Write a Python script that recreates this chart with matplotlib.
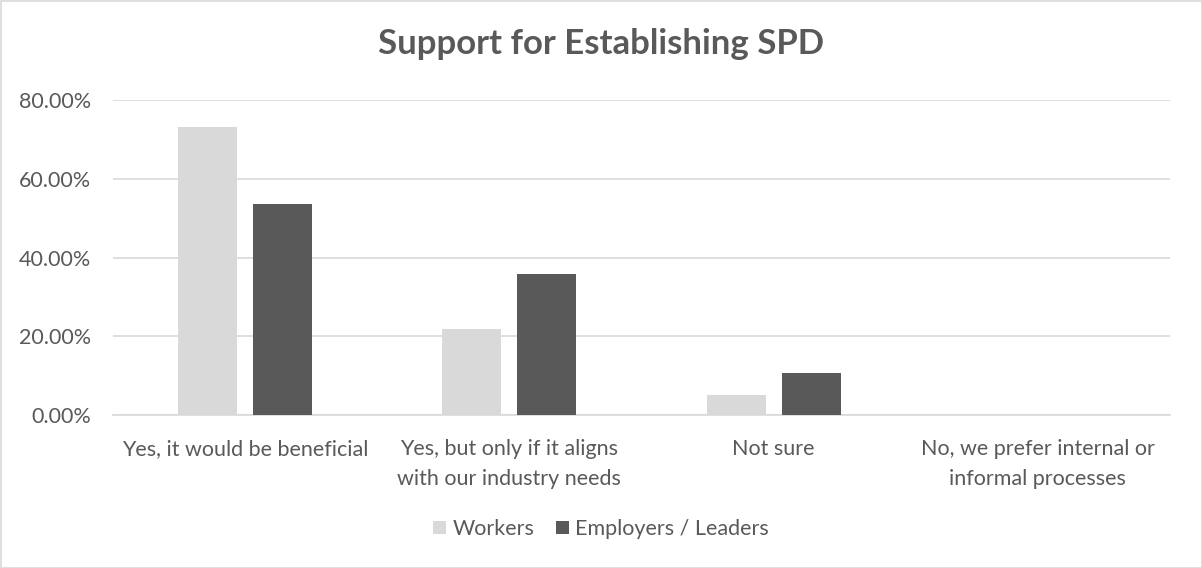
import matplotlib
matplotlib.use("Agg")
import matplotlib.pyplot as plt
import numpy as np
from matplotlib.ticker import FuncFormatter, MultipleLocator
from matplotlib.patches import Rectangle

categories = ["Yes, it would be beneficial",
              "Yes, but only if it aligns\nwith our industry needs",
              "Not sure",
              "No, we prefer internal or\ninformal processes"]
series_names = ["Workers", "Employers / Leaders"]
workers = [73.08, 21.79, 5.13, 0.0]
employers = [53.57, 35.71, 10.71, 0.0]

plt.rcParams['font.family'] = ['Lato', 'DejaVu Sans']
txt = '#595959'

fig = plt.figure(figsize=(12.02, 5.68), dpi=100)
ax = fig.add_axes([113/1202, 1 - 415/568, (1170-113)/1202, 315/568])

x = np.arange(len(categories))
bw = 0.223
off = 0.142
ax.bar(x - off, workers, bw, color='#d9d9d9', label=series_names[0], zorder=3)
ax.bar(x + off, employers, bw, color='#595959', label=series_names[1], zorder=3)

ax.set_xlim(-0.5, len(categories) - 0.5)
ax.set_ylim(0, 80)
ax.yaxis.set_major_locator(MultipleLocator(20))
ax.yaxis.set_major_formatter(FuncFormatter(lambda v, p: f"{v:.2f}%"))
ax.grid(axis='y', color='#d9d9d9', linewidth=1.2, zorder=0)
for s in ['top', 'right', 'left']:
    ax.spines[s].set_visible(False)
ax.spines['bottom'].set_color('#d9d9d9')
ax.spines['bottom'].set_linewidth(1.2)
ax.tick_params(axis='both', length=0, labelsize=15.5, colors=txt)
ax.tick_params(axis='y', pad=16)
ax.set_xticks(x)
ax.set_xticklabels(categories, linespacing=1.65, va='top')
ax.tick_params(axis='x', pad=17)

fig.text(0.5, 1 - 44/568, "Support for Establishing SPD", ha='center', va='center',
         fontsize=25, fontweight='bold', color=txt)

leg = fig.legend(loc='center', bbox_to_anchor=(0.5, 1 - 529/568), ncol=2, frameon=False,
                 fontsize=15.5, handlelength=0.6, handleheight=0.6, handletextpad=0.3,
                 columnspacing=1.0, labelcolor=txt)

fig.patches.append(Rectangle((0.5/1202, 0.5/568), 1 - 1/1202, 1 - 1/568, transform=fig.transFigure,
                             fill=False, edgecolor='#d9d9d9', linewidth=1.2))

fig.savefig("out.png", dpi=100)
